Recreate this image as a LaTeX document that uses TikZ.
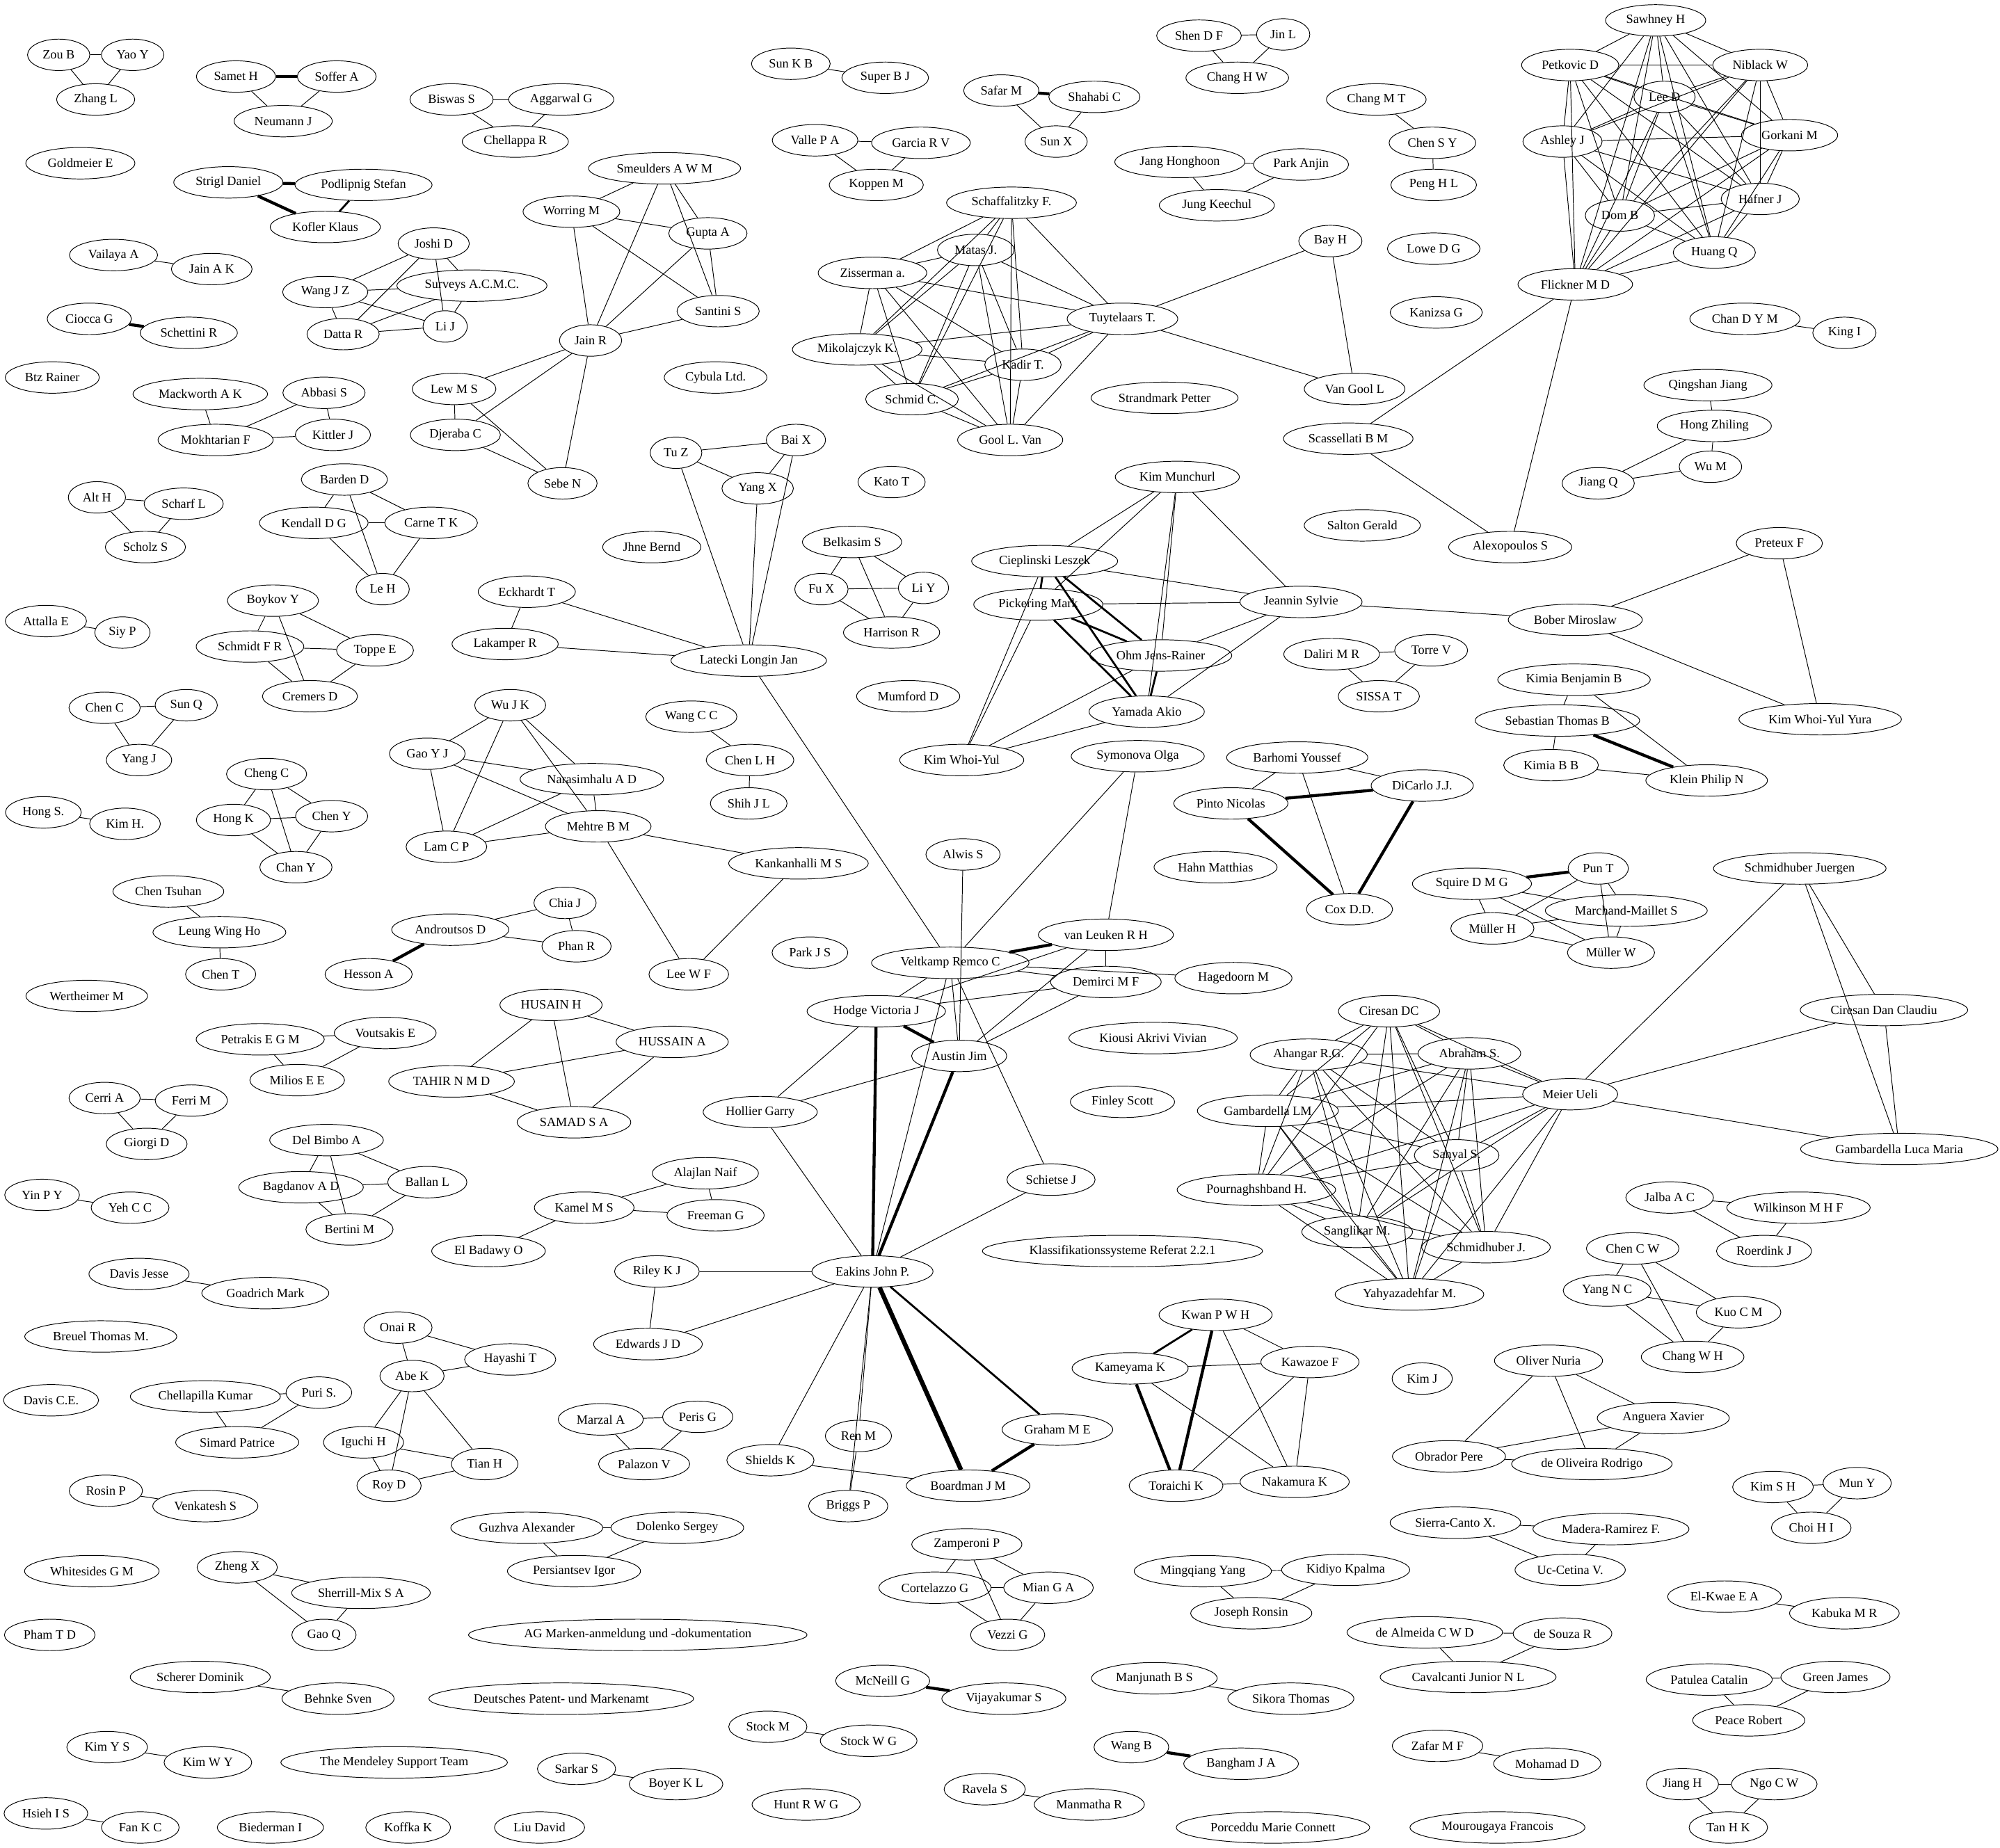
\documentclass[tikz,border=0pt]{standalone}
\usepackage{fontspec}
\setmainfont{Liberation Serif}
\usetikzlibrary{shapes.geometric}

% every author of a group linked to every other one
\newcommand{\authclique}[1]{%
  \foreach \a [count=\i] in {#1} {%
    \foreach \b [count=\j] in {#1} {%
      \ifnum\j>\i \draw[tie] (\a) -- (\b); \fi
    }%
  }%
}

\begin{document}
\begin{tikzpicture}[
    x=0.3mm, y=-0.3mm,
    author/.style={draw, ellipse, line width=0.45pt,
        inner xsep=1.4mm, inner ysep=0.3mm, minimum height=7.4mm,
        font=\fontsize{8.5}{10}\selectfont},
    tie/.style={line width=0.45pt},
    tiem/.style={line width=1.3pt},
    tiek/.style={line width=2pt},
    tiex/.style={line width=3pt}
]
\useasboundingbox (0,0) rectangle (1568,1449);

%%%%%%%%%%%%%%%%%%%%%
% Left column
%%%%%%%%%%%%%%%%%%%%%
\node[author] (zouB) at (46,43) {Zou B};
\node[author] (yaoY) at (104,43) {Yao Y};
\node[author] (zhangL) at (75,78) {Zhang L};
\node[author] (sametH) at (185,60) {Samet H};
\node[author] (sofferA) at (264,60) {Soffer A};
\node[author] (neumannJ) at (222,95) {Neumann J};
\node[author] (biswasS) at (354,78) {Biswas S};
\node[author] (aggarwalG) at (440,78) {Aggarwal G};
\node[author] (chellappaR) at (404,111) {Chellappa R};
\node[author] (goldmeierE) at (63,128) {Goldmeier E};
\node[author] (striglD) at (179,143) {Strigl Daniel};
\node[author] (podlipnigS) at (285,145) {Podlipnig Stefan};
\node[author] (koflerK) at (255,178) {Kofler Klaus};
\node[author] (smeuldersA) at (521,132) {Smeulders A W M};
\node[author] (worringM) at (448,166) {Worring M};
\node[author] (guptaA) at (555,183) {Gupta A};
\node[author] (joshiD) at (340,191) {Joshi D};
\node[author] (vailayaA) at (89,200) {Vailaya A};
\node[author] (jainAK) at (166,211) {Jain A K};
\node[author] (wangJZ) at (255,229) {Wang J Z};
\node[author] (surveys) at (370,224) {Surveys A.C.M.C.};
\node[author] (santiniS) at (563,244) {Santini S};
\node[author] (cioccaG) at (70,250) {Ciocca G};
\node[author] (schettiniR) at (148,261) {Schettini R};
\node[author] (dattaR) at (269,262) {Datta R};
\node[author] (liJ) at (349,256) {Li J};
\node[author] (jainR) at (463,267) {Jain R};
\node[author] (btzR) at (41,296) {Btz Rainer};
\node[author] (cybula) at (561,296) {Cybula Ltd.};
\node[author] (mackworthAK) at (157,309) {Mackworth A K};
\node[author] (abbasiS) at (254,308) {Abbasi S};
\node[author] (lewMS) at (356,305) {Lew M S};
\node[author] (mokhtarianF) at (169,345) {Mokhtarian F};
\node[author] (kittlerJ) at (261,341) {Kittler J};
\node[author] (djerabaC) at (357,341) {Djeraba C};
\node[author] (tuZ) at (530,355) {Tu Z};
\node[author] (baiX) at (624,345) {Bai X};
\node[author] (yangX) at (594,383) {Yang X};
\node[author] (sebeN) at (441,379) {Sebe N};
\node[author] (bardenD) at (270,376) {Barden D};
\node[author] (altH) at (76,390) {Alt H};
\node[author] (scharfL) at (144,395) {Scharf L};
\node[author] (kendallDG) at (246,410) {Kendall D G};
\node[author] (carneTK) at (338,410) {Carne T K};
\node[author] (scholzS) at (114,429) {Scholz S};
\node[author] (jhneB) at (511,429) {Jhne Bernd};
\node[author] (belkasimS) at (668,425) {Belkasim S};
\node[author] (leH) at (300,462) {Le H};
\node[author] (fuX) at (644,462) {Fu X};
\node[author] (liY) at (724,461) {Li Y};
\node[author] (harrisonR) at (699,496) {Harrison R};
\node[author] (katoT) at (699,378) {Kato T};
\node[author] (eckhardtT) at (413,464) {Eckhardt T};
\node[author] (boykovY) at (214,471) {Boykov Y};
\node[author] (attallaE) at (36,487) {Attalla E};
\node[author] (siyP) at (96,496) {Siy P};
\node[author] (lakamperR) at (396,505) {Lakamper R};
\node[author] (schmidtFR) at (196,507) {Schmidt F R};
\node[author] (toppeE) at (294,510) {Toppe E};
\node[author] (latecki) at (587,518) {Latecki Longin Jan};
\node[author] (cremersD) at (243,546) {Cremers D};
\node[author] (mumfordD) at (712,546) {Mumford D};
\node[author] (wuJK) at (400,553) {Wu J K};
\node[author] (chenC) at (82,555) {Chen C};
\node[author] (sunQ) at (146,553) {Sun Q};
\node[author] (wangCC) at (542,562) {Wang C C};
\node[author] (gaoYJ) at (335,591) {Gao Y J};
\node[author] (yangJ) at (109,596) {Yang J};
\node[author] (chenLH) at (588,596) {Chen L H};
\node[author] (chengC) at (209,607) {Cheng C};
\node[author] (narasimhalu) at (464,611) {Narasimhalu A D};
\node[author] (shihJL) at (587,630) {Shih J L};
\node[author] (hongS) at (34,637) {Hong S.};
\node[author] (chenY) at (260,640) {Chen Y};
\node[author] (hongK) at (183,643) {Hong K};
\node[author] (kimH) at (98,646) {Kim H.};
\node[author] (mehtreBM) at (469,648) {Mehtre B M};
\node[author] (lamCP) at (350,664) {Lam C P};
\node[author] (kankanhalli) at (626,677) {Kankanhalli M S};
\node[author] (chanY) at (232,680) {Chan Y};
\node[author] (chenTsuhan) at (132,699) {Chen Tsuhan};
\node[author] (chiaJ) at (443,708) {Chia J};
\node[author] (androutsosD) at (353,729) {Androutsos D};
\node[author] (leungWH) at (172,731) {Leung Wing Ho};
\node[author] (phanR) at (452,742) {Phan R};
\node[author] (parkJS) at (635,747) {Park J S};
\node[author] (hessonA) at (289,764) {Hesson A};
\node[author] (chenT) at (173,764) {Chen T};
\node[author] (leeWF) at (540,764) {Lee W F};
\node[author] (wertheimerM) at (68,781) {Wertheimer M};
\node[author] (husainH) at (432,788) {HUSAIN H};
\node[author] (hussainA) at (527,817) {HUSSAIN A};
\node[author] (tahir) at (354,848) {TAHIR N M D};
\node[author] (samad) at (450,880) {SAMAD S A};
\node[author] (petrakis) at (204,815) {Petrakis E G M};
\node[author] (voutsakisE) at (302,810) {Voutsakis E};
\node[author] (miliosEE) at (233,847) {Milios E E};
\node[author] (cerriA) at (82,861) {Cerri A};
\node[author] (ferriM) at (150,863) {Ferri M};
\node[author] (giorgiD) at (115,897) {Giorgi D};
\node[author] (delBimboA) at (256,894) {Del Bimbo A};
\node[author] (bagdanovAD) at (236,931) {Bagdanov A D};
\node[author] (ballanL) at (335,927) {Ballan L};
\node[author] (bertiniM) at (274,964) {Bertini M};
\node[author] (yinPY) at (33,937) {Yin P Y};
\node[author] (yehCC) at (102,947) {Yeh C C};
\node[author] (alajlanN) at (553,920) {Alajlan Naif};
\node[author] (kamelMS) at (458,947) {Kamel M S};
\node[author] (freemanG) at (561,953) {Freeman G};
\node[author] (elBadawyO) at (383,981) {El Badawy O};
\node[author] (rileyKJ) at (515,997) {Riley K J};
\node[author] (davisJesse) at (109,999) {Davis Jesse};
\node[author] (goadrichM) at (208,1014) {Goadrich Mark};
\node[author] (onaiR) at (312,1041) {Onai R};
\node[author] (breuelTM) at (79,1048) {Breuel Thomas M.};
\node[author] (edwardsJD) at (508,1054) {Edwards J D};
\node[author] (hayashiT) at (400,1066) {Hayashi T};
\node[author] (abeK) at (323,1079) {Abe K};
\node[author] (puriS) at (250,1092) {Puri S.};
\node[author] (chellapillaK) at (161,1095) {Chellapilla Kumar};
\node[author] (davisCE) at (40,1098) {Davis C.E.};
\node[author] (marzalA) at (471,1113) {Marzal A};
\node[author] (perisG) at (547,1111) {Peris G};
\node[author] (simardP) at (186,1131) {Simard Patrice};
\node[author] (iguchiH) at (285,1131) {Iguchi H};
\node[author] (palazonV) at (505,1148) {Palazon V};
\node[author] (tianH) at (380,1148) {Tian H};
\node[author] (shieldsK) at (604,1145) {Shields K};
\node[author] (royD) at (305,1165) {Roy D};
\node[author] (rosinP) at (83,1169) {Rosin P};
\node[author] (venkateshS) at (161,1181) {Venkatesh S};
\node[author] (guzhvaA) at (413,1198) {Guzhva Alexander};
\node[author] (dolenkoS) at (531,1198) {Dolenko Sergey};
\node[author] (zhengX) at (186,1229) {Zheng X};
\node[author] (whitesides) at (72,1232) {Whitesides G M};
\node[author] (persiantsevI) at (450,1232) {Persiantsev Igor};
\node[author] (sherrillMix) at (283,1249) {Sherrill-Mix S A};
\node[author] (phamTD) at (39,1282) {Pham T D};
\node[author] (gaoQ) at (254,1282) {Gao Q};
\node[author] (agMarken) at (500,1282) {AG Marken-anmeldung und -dokumentation};
\node[author] (schererD) at (157,1315) {Scherer Dominik};
\node[author] (behnkeS) at (265,1332) {Behnke Sven};
\node[author] (dpma) at (440,1332) {Deutsches Patent- und Markenamt};
\node[author] (stockM) at (602,1354) {Stock M};
\node[author] (kimYS) at (84,1370) {Kim Y S};
\node[author] (kimWY) at (163,1382) {Kim W Y};
\node[author] (mendeley) at (309,1382) {The Mendeley Support Team};
\node[author] (sarkarS) at (452,1387) {Sarkar S};
\node[author] (boyerKL) at (530,1399) {Boyer K L};
\node[author] (hsiehIS) at (36,1422) {Hsieh I S};
\node[author] (fanKC) at (110,1433) {Fan K C};
\node[author] (biedermanI) at (212,1433) {Biederman I};
\node[author] (koffkaK) at (320,1433) {Koffka K};
\node[author] (liuDavid) at (423,1433) {Liu David};

%%%%%%%%%%%%%%%%%%%%%
% Middle column
%%%%%%%%%%%%%%%%%%%%%
\node[author] (sunKB) at (620,50) {Sun K B};
\node[author] (superBJ) at (694,61) {Super B J};
\node[author] (valle) at (639,110) {Valle P A};
\node[author] (garciaRV) at (722,112) {Garcia R V};
\node[author] (koppenM) at (687,145) {Koppen M};
\node[author] (safarM) at (785,71) {Safar M};
\node[author] (shahabiC) at (858,76) {Shahabi C};
\node[author] (sunX) at (828,111) {Sun X};
\node[author] (shenDF) at (940,28) {Shen D F};
\node[author] (jinL) at (1006,27) {Jin L};
\node[author] (changHW) at (970,61) {Chang H W};
\node[author] (changMT) at (1079,78) {Chang M T};
\node[author] (chenSY) at (1123,112) {Chen S Y};
\node[author] (pengHL) at (1124,145) {Peng H L};
\node[author] (jangH) at (925,127) {Jang Honghoon};
\node[author] (parkA) at (1020,129) {Park Anjin};
\node[author] (jungK) at (954,161) {Jung Keechul};
\node[author] (schaffalitzky) at (793,159) {Schaffalitzky F.};
\node[author] (matasJ) at (765,196) {Matas J.};
\node[author] (zisserman) at (684,214) {Zisserman a.};
\node[author] (tuytelaars) at (880,250) {Tuytelaars T.};
\node[author] (mikolajczyk) at (672,274) {Mikolajczyk K.};
\node[author] (kadirT) at (802,286) {Kadir T.};
\node[author] (schmidC) at (715,313) {Schmid C.};
\node[author] (goolLV) at (792,345) {Gool L. Van};
\node[author] (bayH) at (1043,189) {Bay H};
\node[author] (vanGoolL) at (1062,305) {Van Gool L};
\node[author] (strandmark) at (913,312) {Strandmark Petter};
\node[author] (loweDG) at (1124,195) {Lowe D G};
\node[author] (kanizsaG) at (1126,245) {Kanizsa G};
\node[author] (scassellati) at (1057,344) {Scassellati B M};
\node[author] (saltonG) at (1068,412) {Salton Gerald};
\node[author] (kimMunchurl) at (923,374) {Kim Munchurl};
\node[author] (cieplinski) at (819,440) {Cieplinski Leszek};
\node[author] (pickering) at (814,474) {Pickering Mark};
\node[author] (jeannin) at (1020,472) {Jeannin Sylvie};
\node[author] (ohmJR) at (910,514) {Ohm Jens-Rainer};
\node[author] (yamadaA) at (899,558) {Yamada Akio};
\node[author] (kimWhoiYul) at (754,596) {Kim Whoi-Yul};
\node[author] (symonova) at (892,593) {Symonova Olga};
\node[author] (daliri) at (1044,513) {Daliri M R};
\node[author] (torreV) at (1122,510) {Torre V};
\node[author] (sissaT) at (1081,546) {SISSA T};
\node[author] (barhomi) at (1017,594) {Barhomi Youssef};
\node[author] (pintoN) at (965,630) {Pinto Nicolas};
\node[author] (diCarlo) at (1115,616) {DiCarlo J.J.};
\node[author] (coxDD) at (1058,713) {Cox D.D.};
\node[author] (hahnM) at (953,680) {Hahn Matthias};
\node[author] (alwisS) at (755,670) {Alwis S};
\node[author] (vanLeuken) at (867,733) {van Leuken R H};
\node[author] (veltkamp) at (745,755) {Veltkamp Remco C};
\node[author] (hagedoorn) at (967,767) {Hagedoorn M};
\node[author] (demirci) at (867,770) {Demirci M F};
\node[author] (hodgeVJ) at (687,793) {Hodge Victoria J};
\node[author] (kiousi) at (904,814) {Kiousi Akrivi Vivian};
\node[author] (austinJ) at (752,828) {Austin Jim};
\node[author] (finleyS) at (880,864) {Finley Scott};
\node[author] (hollierG) at (596,872) {Hollier Garry};
\node[author] (schietseJ) at (824,925) {Schietse J};
\node[author] (klassif) at (880,981) {Klassifikationssysteme Referat 2.2.1};
\node[author] (eakins) at (684,997) {Eakins John P.};
\node[author] (renM) at (673,1126) {Ren M};
\node[author] (grahamME) at (829,1121) {Graham M E};
\node[author] (boardman) at (759,1165) {Boardman J M};
\node[author] (briggsP) at (665,1181) {Briggs P};
\node[author] (zamperoni) at (758,1211) {Zamperoni P};
\node[author] (cortelazzo) at (733,1245) {Cortelazzo G};
\node[author] (mianGA) at (822,1245) {Mian G A};
\node[author] (vezziG) at (790,1282) {Vezzi G};
\node[author] (mcneillG) at (692,1318) {McNeill G};
\node[author] (vijayakumar) at (787,1332) {Vijayakumar S};
\node[author] (stockWG) at (681,1365) {Stock W G};
\node[author] (huntRWG) at (632,1415) {Hunt R W G};
\node[author] (ravelaS) at (772,1403) {Ravela S};
\node[author] (manmathaR) at (854,1415) {Manmatha R};

%%%%%%%%%%%%%%%%%%%%%
% Right column
%%%%%%%%%%%%%%%%%%%%%
\node[author] (sawhneyH) at (1298,16) {Sawhney H};
\node[author] (petkovicD) at (1231,51) {Petkovic D};
\node[author] (niblackW) at (1380,51) {Niblack W};
\node[author] (leeD) at (1305,76) {Lee D};
\node[author] (ashleyJ) at (1225,111) {Ashley J};
\node[author] (gorkaniM) at (1403,106) {Gorkani M};
\node[author] (hafnerJ) at (1380,156) {Hafner J};
\node[author] (domB) at (1270,169) {Dom B};
\node[author] (huangQ) at (1344,198) {Huang Q};
\node[author] (flickner) at (1235,223) {Flickner M D};
\node[author] (chanDYM) at (1368,250) {Chan D Y M};
\node[author] (kingI) at (1446,261) {King I};
\node[author] (qingshan) at (1339,302) {Qingshan Jiang};
\node[author] (hongZ) at (1344,334) {Hong Zhiling};
\node[author] (wuM) at (1341,366) {Wu M};
\node[author] (jiangQ) at (1253,379) {Jiang Q};
\node[author] (alexopoulos) at (1184,429) {Alexopoulos S};
\node[author] (preteuxF) at (1395,426) {Preteux F};
\node[author] (bober) at (1235,486) {Bober Miroslaw};
\node[author] (kimiaBenjamin) at (1234,533) {Kimia Benjamin B};
\node[author] (sebastian) at (1221,565) {Sebastian Thomas B};
\node[author] (kimWhoiYulYura) at (1427,564) {Kim Whoi-Yul Yura};
\node[author] (kimiaBB) at (1216,600) {Kimia B B};
\node[author] (kleinPN) at (1338,612) {Klein Philip N};
\node[author] (punT) at (1253,681) {Pun T};
\node[author] (schmidhuberJuergen) at (1411,681) {Schmidhuber Juergen};
\node[author] (squire) at (1154,693) {Squire D M G};
\node[author] (marchand) at (1275,714) {Marchand-Maillet S};
\node[author] (mullerH) at (1170,728) {Müller H};
\node[author] (mullerW) at (1263,747) {Müller W};
\node[author] (ciresanDC) at (1089,793) {Ciresan DC};
\node[author] (ciresanDan) at (1477,792) {Ciresan Dan Claudiu};
\node[author] (ahangar) at (1026,827) {Ahangar R.G.};
\node[author] (abrahamS) at (1152,826) {Abraham S.};
\node[author] (meierU) at (1231,858) {Meier Ueli};
\node[author] (gambLM) at (994,871) {Gambardella LM};
\node[author] (gambLuca) at (1489,901) {Gambardella Luca Maria};
\node[author] (sanyalS) at (1142,906) {Sanyal S.};
\node[author] (pournaghshband) at (985,933) {Pournaghshband H.};
\node[author] (jalba) at (1309,939) {Jalba A C};
\node[author] (wilkinson) at (1410,947) {Wilkinson M H F};
\node[author] (sanglikar) at (1064,966) {Sanglikar M.};
\node[author] (schmidhuberJ) at (1165,978) {Schmidhuber J.};
\node[author] (chenCW) at (1280,979) {Chen C W};
\node[author] (roerdink) at (1383,981) {Roerdink J};
\node[author] (yahyazadehfar) at (1105,1015) {Yahyazadehfar M.};
\node[author] (yangNC) at (1260,1012) {Yang N C};
\node[author] (kwan) at (953,1031) {Kwan P W H};
\node[author] (kuoCM) at (1363,1029) {Kuo C M};
\node[author] (changWH) at (1327,1064) {Chang W H};
\node[author] (oliverN) at (1214,1067) {Oliver Nuria};
\node[author] (kawazoeF) at (1027,1068) {Kawazoe F};
\node[author] (kameyamaK) at (886,1073) {Kameyama K};
\node[author] (kimJ) at (1115,1081) {Kim J};
\node[author] (angueraX) at (1304,1112) {Anguera Xavier};
\node[author] (obradorP) at (1136,1142) {Obrador Pere};
\node[author] (deOliveira) at (1248,1148) {de Oliveira Rodrigo};
\node[author] (nakamuraK) at (1015,1162) {Nakamura K};
\node[author] (toraichiK) at (922,1165) {Toraichi K};
\node[author] (kimSH) at (1390,1166) {Kim S H};
\node[author] (munY) at (1456,1163) {Mun Y};
\node[author] (sierra) at (1141,1194) {Sierra-Canto X.};
\node[author] (choiHI) at (1420,1198) {Choi H I};
\node[author] (madera) at (1263,1199) {Madera-Ramirez F.};
\node[author] (ucCetina) at (1231,1231) {Uc-Cetina V.};
\node[author] (mingqiang) at (943,1232) {Mingqiang Yang};
\node[author] (kidiyo) at (1055,1231) {Kidiyo Kpalma};
\node[author] (elKwae) at (1352,1252) {El-Kwae E A};
\node[author] (josephR) at (981,1265) {Joseph Ronsin};
\node[author] (kabuka) at (1446,1265) {Kabuka M R};
\node[author] (deAlmeida) at (1117,1280) {de Almeida C W D};
\node[author] (deSouza) at (1225,1281) {de Souza R};
\node[author] (manjunath) at (905,1316) {Manjunath B S};
\node[author] (cavalcanti) at (1151,1315) {Cavalcanti Junior N L};
\node[author] (patulea) at (1340,1317) {Patulea Catalin};
\node[author] (greenJ) at (1439,1315) {Green James};
\node[author] (sikora) at (1012,1332) {Sikora Thomas};
\node[author] (peaceR) at (1371,1349) {Peace Robert};
\node[author] (wangB) at (887,1370) {Wang B};
\node[author] (zafar) at (1127,1369) {Zafar M F};
\node[author] (bangham) at (973,1383) {Bangham J A};
\node[author] (mohamadD) at (1213,1383) {Mohamad D};
\node[author] (jiangH) at (1319,1399) {Jiang H};
\node[author] (ngoCW) at (1391,1399) {Ngo C W};
\node[author] (porceddu) at (998,1433) {Porceddu Marie Connett};
\node[author] (mourougaya) at (1174,1433) {Mourougaya Francois};
\node[author] (tanHK) at (1355,1433) {Tan H K};

%%%%%%%%%%%%%%%%%%%%%
% Co-author groups
%%%%%%%%%%%%%%%%%%%%%
\authclique{zouB,yaoY,zhangL}
\authclique{sametH,sofferA,neumannJ}
\authclique{biswasS,aggarwalG,chellappaR}
\authclique{smeuldersA,worringM,guptaA,santiniS,jainR}
\authclique{joshiD,wangJZ,surveys,dattaR,liJ}
\authclique{jainR,lewMS,djerabaC,sebeN}
\authclique{valle,garciaRV,koppenM}
\authclique{safarM,shahabiC,sunX}
\authclique{shenDF,jinL,changHW}
\authclique{jangH,parkA,jungK}
\authclique{sawhneyH,petkovicD,niblackW,leeD,ashleyJ,gorkaniM,hafnerJ,domB,huangQ,flickner}
\authclique{schaffalitzky,matasJ,zisserman,tuytelaars,mikolajczyk,kadirT,schmidC,goolLV}
\authclique{tuytelaars,bayH,vanGoolL}
\authclique{flickner,scassellati,alexopoulos}
\authclique{hongZ,wuM,jiangQ}
\authclique{tuZ,baiX,yangX,latecki}
\authclique{altH,scharfL,scholzS}
\authclique{bardenD,kendallDG,carneTK,leH}
\authclique{belkasimS,fuX,liY,harrisonR}
\authclique{cieplinski,pickering,ohmJR,yamadaA}
\authclique{preteuxF,bober,kimWhoiYulYura}
\authclique{daliri,torreV,sissaT}
\authclique{eckhardtT,lakamperR,latecki}
\authclique{boykovY,schmidtFR,toppeE,cremersD}
\authclique{chenC,sunQ,yangJ}
\authclique{wuJK,gaoYJ,narasimhalu,mehtreBM,lamCP}
\authclique{mehtreBM,kankanhalli,leeWF}
\authclique{chengC,hongK,chenY,chanY}
\authclique{androutsosD,chiaJ,phanR}
\authclique{barhomi,pintoN,diCarlo,coxDD}
\authclique{squire,punT,marchand,mullerH,mullerW}
\authclique{meierU,ciresanDan,gambLuca,schmidhuberJuergen}
\authclique{ciresanDC,ahangar,abrahamS,meierU,gambLM,sanyalS,pournaghshband,sanglikar,schmidhuberJ,yahyazadehfar}
\authclique{rileyKJ,edwardsJD,eakins}
\authclique{kwan,kameyamaK,kawazoeF,toraichiK,nakamuraK}
\authclique{husainH,hussainA,tahir,samad}
\authclique{petrakis,voutsakisE,miliosEE}
\authclique{cerriA,ferriM,giorgiD}
\authclique{delBimboA,bagdanovAD,ballanL,bertiniM}
\authclique{kamelMS,alajlanN,freemanG}
\authclique{onaiR,hayashiT,abeK}
\authclique{abeK,iguchiH,royD,tianH}
\authclique{chellapillaK,puriS,simardP}
\authclique{marzalA,perisG,palazonV}
\authclique{guzhvaA,dolenkoS,persiantsevI}
\authclique{zhengX,sherrillMix,gaoQ}
\authclique{zamperoni,cortelazzo,mianGA,vezziG}
\authclique{jalba,wilkinson,roerdink}
\authclique{chenCW,yangNC,kuoCM,changWH}
\authclique{oliverN,angueraX,obradorP,deOliveira}
\authclique{kimSH,munY,choiHI}
\authclique{sierra,madera,ucCetina}
\authclique{mingqiang,kidiyo,josephR}
\authclique{deAlmeida,deSouza,cavalcanti}
\authclique{patulea,greenJ,peaceR}
\authclique{jiangH,ngoCW,tanHK}

%%%%%%%%%%%%%%%%%%%%%
% Single links
%%%%%%%%%%%%%%%%%%%%%
\foreach \a/\b in {vailayaA/jainAK, mackworthAK/mokhtarianF, abbasiS/mokhtarianF,
    abbasiS/kittlerJ, mokhtarianF/kittlerJ, sunKB/superBJ, changMT/chenSY, chenSY/pengHL,
    chanDYM/kingI, qingshan/hongZ, attallaE/siyP, wangCC/chenLH, chenLH/shihJL,
    hongS/kimH, chenTsuhan/leungWH, leungWH/chenT, yinPY/yehCC, kamelMS/elBadawyO,
    davisJesse/goadrichM, rosinP/venkateshS, schererD/behnkeS, kimYS/kimWY,
    sarkarS/boyerKL, hsiehIS/fanKC, stockM/stockWG, ravelaS/manmathaR, elKwae/kabuka,
    manjunath/sikora, zafar/mohamadD,
    kimiaBenjamin/sebastian, kimiaBenjamin/kleinPN, sebastian/kimiaBB, kimiaBB/kleinPN,
    jeannin/bober, kimMunchurl/cieplinski, kimMunchurl/pickering, kimMunchurl/ohmJR,
    kimMunchurl/yamadaA, kimMunchurl/jeannin, cieplinski/jeannin, pickering/jeannin,
    jeannin/ohmJR, jeannin/yamadaA, cieplinski/kimWhoiYul, pickering/kimWhoiYul,
    ohmJR/kimWhoiYul, yamadaA/kimWhoiYul,
    latecki/veltkamp, alwisS/austinJ, symonova/veltkamp, symonova/vanLeuken,
    vanLeuken/demirci, vanLeuken/hodgeVJ, vanLeuken/austinJ, veltkamp/demirci,
    veltkamp/hagedoorn, veltkamp/hodgeVJ, veltkamp/eakins, veltkamp/austinJ,
    veltkamp/schietseJ, hodgeVJ/demirci, hodgeVJ/hollierG, austinJ/hollierG,
    austinJ/demirci, hollierG/eakins, schietseJ/eakins,
    eakins/shieldsK, eakins/renM, eakins/briggsP, renM/briggsP, shieldsK/boardman}
    \draw[tie] (\a) -- (\b);

% stronger links
\foreach \a/\b in {cieplinski/pickering, cieplinski/ohmJR, cieplinski/yamadaA,
    pickering/ohmJR, pickering/yamadaA, ohmJR/yamadaA, eakins/grahamME, kwan/kameyamaK,
    podlipnigS/koflerK}
    \draw[tiem] (\a) -- (\b);
\foreach \a/\b in {sametH/sofferA, striglD/podlipnigS, striglD/koflerK, cioccaG/schettiniR,
    safarM/shahabiC, androutsosD/hessonA, sebastian/kleinPN, squire/punT, pintoN/diCarlo,
    pintoN/coxDD, diCarlo/coxDD, veltkamp/vanLeuken, hodgeVJ/austinJ, hodgeVJ/eakins,
    austinJ/eakins, grahamME/boardman, kwan/toraichiK, kameyamaK/toraichiK,
    mcneillG/vijayakumar, wangB/bangham}
    \draw[tiek] (\a) -- (\b);
\draw[tiex] (eakins) -- (boardman);

\end{tikzpicture}
\end{document}
